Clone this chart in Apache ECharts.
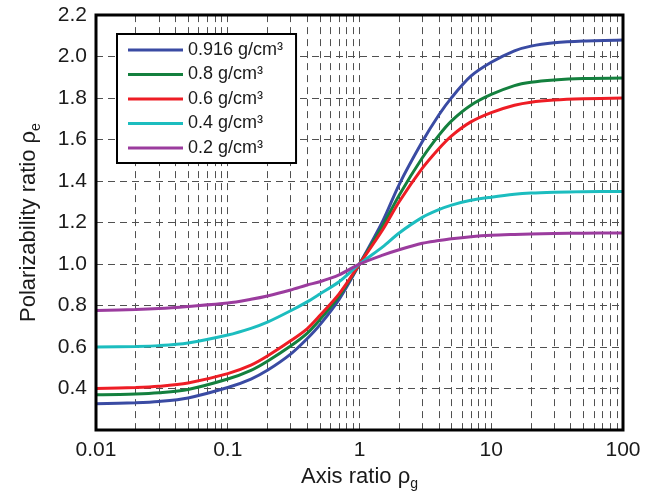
<!DOCTYPE html>
<html>
<head>
<meta charset="utf-8">
<script src="https://cdn.jsdelivr.net/npm/echarts@6/dist/echarts.min.js"></script>
<style>
html,body{margin:0;padding:0;background:#fff;}
#chart{width:646px;height:496px;}
</style>
</head>
<body>
<div id="chart"></div>
<script>
// Axis ratio values (x)
const axisRatio = [0.01, 0.02, 0.03, 0.05, 0.1, 0.15, 0.2, 0.3, 0.4, 0.5, 0.7, 1, 1.5, 2, 3, 4, 5, 7, 10, 15, 20, 30, 50, 100];
// Polarizability ratio for each density
const rho0916 = [0.327, 0.332, 0.338, 0.355, 0.405, 0.446, 0.488, 0.566, 0.640, 0.707, 0.830, 1.0, 1.207, 1.383, 1.590, 1.718, 1.802, 1.905, 1.972, 2.027, 2.050, 2.066, 2.075, 2.080];
const rho08   = [0.370, 0.374, 0.380, 0.396, 0.446, 0.488, 0.532, 0.605, 0.666, 0.732, 0.845, 1.0, 1.185, 1.332, 1.512, 1.620, 1.690, 1.765, 1.817, 1.860, 1.876, 1.887, 1.894, 1.897];
const rho06   = [0.400, 0.405, 0.411, 0.427, 0.472, 0.513, 0.557, 0.630, 0.688, 0.752, 0.856, 1.0, 1.165, 1.300, 1.462, 1.556, 1.618, 1.685, 1.730, 1.765, 1.780, 1.790, 1.796, 1.800];
const rho04   = [0.600, 0.603, 0.607, 0.620, 0.658, 0.690, 0.720, 0.775, 0.818, 0.856, 0.915, 1.0, 1.083, 1.150, 1.225, 1.262, 1.284, 1.307, 1.322, 1.336, 1.342, 1.346, 1.349, 1.350];
const rho02   = [0.776, 0.781, 0.786, 0.796, 0.812, 0.830, 0.846, 0.875, 0.899, 0.915, 0.948, 1.0, 1.043, 1.069, 1.100, 1.113, 1.122, 1.132, 1.139, 1.143, 1.145, 1.147, 1.149, 1.150];
const seriesNames = ['0.916 g/cm³', '0.8 g/cm³', '0.6 g/cm³', '0.4 g/cm³', '0.2 g/cm³'];
const seriesValues = [rho0916, rho08, rho06, rho04, rho02];
const seriesColors = ['#3A4BA3', '#14803E', '#EE1D25', '#1CBDBF', '#9B3C9E'];
// Vertical grid lines (log axis, 1..9 per decade)
const xGridValues = [0.02,0.03,0.04,0.05,0.06,0.07,0.08,0.09,0.1,
  0.2,0.3,0.4,0.5,0.6,0.7,0.8,0.9,1,
  2,3,4,5,6,7,8,9,10,
  20,30,40,50,60,70,80,90];
const xTickLabels = ['0.01', '0.1', '1', '10', '100'];
const yMin = 0.2, yMax = 2.2, yStep = 0.2;

const FONT = '"Liberation Sans", Arial, Helvetica, sans-serif';
const dash = {type: [7, 5], color: '#505050', width: 1};

const chart = echarts.init(document.getElementById('chart'), null, {renderer: 'canvas'});

const series = [{
  type: 'line',
  name: '__grid',
  data: [],
  silent: true,
  markLine: {
    silent: true,
    symbol: ['none', 'none'],
    label: {show: false},
    lineStyle: dash,
    emphasis: {disabled: true},
    animation: false,
    data: xGridValues.map(v => ({xAxis: v}))
  }
}];
seriesNames.forEach((n, i) => {
  series.push({
    type: 'line',
    name: n,
    data: axisRatio.map((x, j) => [x, seriesValues[i][j]]),
    showSymbol: false,
    symbol: 'none',
    smooth: 0.3,
    lineStyle: {color: seriesColors[i], width: 3},
    itemStyle: {color: seriesColors[i]},
    z: 5
  });
});

chart.setOption({
  animation: false,
  backgroundColor: '#fff',
  grid: {left: 96, right: 23, top: 15, bottom: 63, show: true, borderColor: '#000', borderWidth: 3, z: 10},
  legend: {
    data: seriesNames.map(n => ({name: n, icon: 'rect'})),
    orient: 'vertical',
    left: 117, top: 34,
    padding: [6, 13, 5, 11],
    itemWidth: 55, itemHeight: 3, itemGap: 4.5,
    backgroundColor: '#fff',
    borderColor: '#000', borderWidth: 2,
    textStyle: {fontFamily: FONT, fontSize: 18, color: '#1a1a1a', lineHeight: 20},
    z: 20
  },
  xAxis: {
    type: 'log', logBase: 10, min: 0.01, max: 100,
    name: '{m|Axis ratio ρ}{s|g}',
    nameLocation: 'middle', nameGap: 27,
    nameTextStyle: {rich: {
      m: {fontFamily: FONT, fontSize: 22, color: '#1a1a1a', lineHeight: 28, verticalAlign: 'middle'},
      s: {fontFamily: FONT, fontSize: 14, color: '#1a1a1a', lineHeight: 14, verticalAlign: 'bottom'}
    }},
    axisLine: {show: false},
    axisTick: {show: false},
    splitLine: {show: false},
    axisLabel: {
      fontFamily: FONT, fontSize: 21, color: '#1a1a1a', margin: 10,
      formatter: (v, i) => xTickLabels[i] !== undefined ? xTickLabels[i] : ''
    }
  },
  yAxis: {
    type: 'value', min: yMin, max: yMax, interval: yStep,
    name: '{m|Polarizability ratio ρ}{s|e}',
    nameLocation: 'middle', nameGap: 53,
    nameTextStyle: {rich: {
      m: {fontFamily: FONT, fontSize: 22, color: '#1a1a1a', lineHeight: 28, verticalAlign: 'middle'},
      s: {fontFamily: FONT, fontSize: 14, color: '#1a1a1a', lineHeight: 14, verticalAlign: 'bottom'}
    }},
    axisLine: {show: false},
    axisTick: {show: false},
    splitLine: {show: true, lineStyle: dash},
    axisLabel: {
      fontFamily: FONT, fontSize: 21, color: '#1a1a1a', margin: 9,
      formatter: v => (Math.abs(v - yMin) < 1e-6 ? '' : v.toFixed(1))
    }
  },
  series: series
});
</script>
</body>
</html>
